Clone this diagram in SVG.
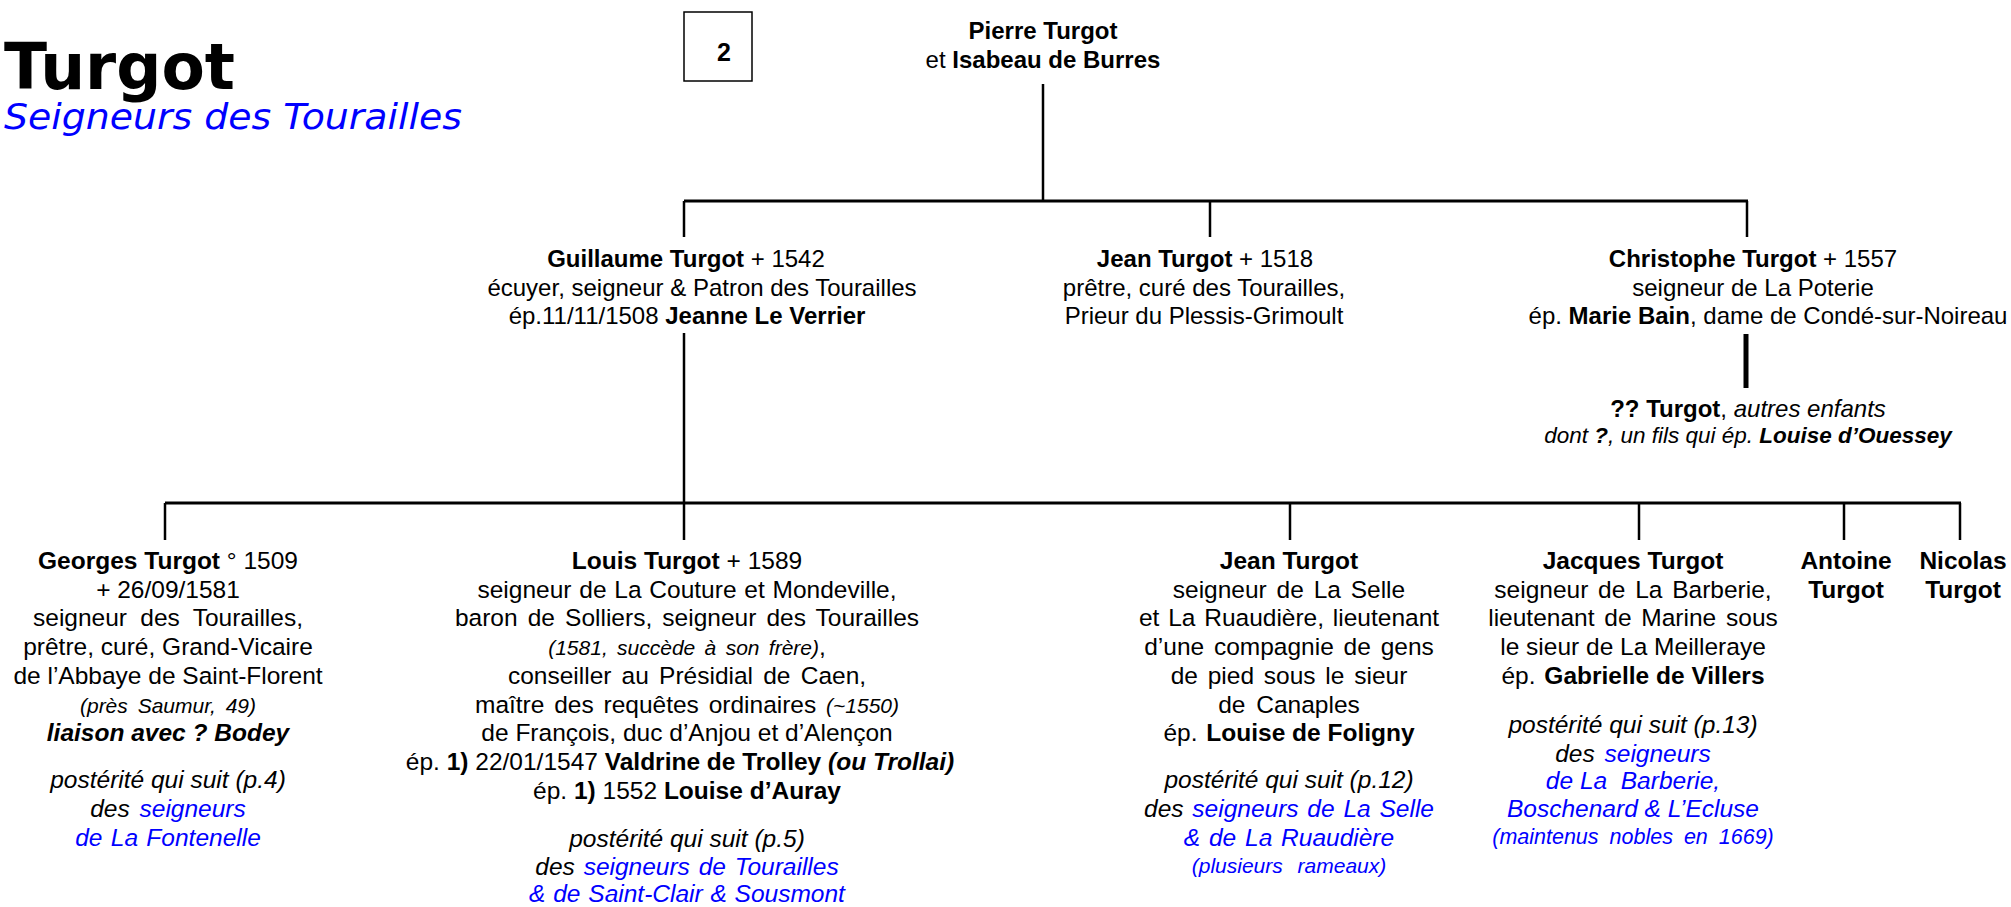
<svg xmlns="http://www.w3.org/2000/svg" width="2011" height="907" viewBox="0 0 2011 907">
<style>
.t{font-family:"Liberation Sans",Arial,sans-serif;font-size:24.5px;fill:#000;text-anchor:middle}
.top{font-size:24px}
.b{font-weight:bold}
.i{font-style:italic}
.bl{fill:#0000ff}
.s{font-size:21px}
.ln{stroke:#000;stroke-width:2.5;fill:none}
.h{stroke:#000;stroke-width:3;fill:none}
</style>
<rect width="2011" height="907" fill="#fff"/>
<g id="title">
<text x="4" y="89" textLength="231" lengthAdjust="spacingAndGlyphs" style="font-family:'DejaVu Sans',Verdana,sans-serif;font-weight:bold;font-size:64px">Turgot</text>
<text x="4" y="129" textLength="458" lengthAdjust="spacingAndGlyphs" style="font-family:'DejaVu Sans',Verdana,sans-serif;font-style:italic;font-size:36px;fill:#0000ff">Seigneurs des Tourailles</text>
</g>
<g id="page">
<rect x="684" y="12" width="68" height="69" fill="#fff" stroke="#000" stroke-width="1.5"/>
<text class="t b" x="724" y="61" style="font-size:25px">2</text>
</g>
<g id="connectors">
<line class="ln" x1="1043" y1="84" x2="1043" y2="201"/>
<line class="h" x1="684" y1="201" x2="1748" y2="201"/>
<line class="ln" x1="684" y1="201" x2="684" y2="237"/>
<line class="ln" x1="1210" y1="201" x2="1210" y2="237"/>
<line class="ln" x1="1747" y1="201" x2="1747" y2="237"/>
<line class="ln" x1="684" y1="333" x2="684" y2="540"/>
<line x1="1746" y1="334" x2="1746" y2="388" stroke="#000" stroke-width="5"/>
<line class="h" x1="165" y1="503" x2="1961" y2="503"/>
<line class="ln" x1="165" y1="503" x2="165" y2="540"/>
<line class="ln" x1="1290" y1="503" x2="1290" y2="540"/>
<line class="ln" x1="1639" y1="503" x2="1639" y2="540"/>
<line class="ln" x1="1844" y1="503" x2="1844" y2="540"/>
<line class="ln" x1="1960" y1="503" x2="1960" y2="540"/>
</g>
<g id="pierre" class="t top">
<text x="1043" y="39" class="b">Pierre Turgot</text>
<text x="1043" y="68">et <tspan class="b">Isabeau de Burres</tspan></text>
</g>
<g id="guillaume" class="t top">
<text x="686" y="267"><tspan class="b">Guillaume Turgot</tspan> + 1542</text>
<text x="702" y="295.5">écuyer, seigneur &amp; Patron des Tourailles</text>
<text x="687" y="324">ép.11/11/1508 <tspan class="b">Jeanne Le Verrier</tspan></text>
</g>
<g id="jean1" class="t top">
<text x="1205" y="267"><tspan class="b">Jean Turgot</tspan> + 1518</text>
<text x="1204" y="295.5">prêtre, curé des Tourailles,</text>
<text x="1204" y="324">Prieur du Plessis-Grimoult</text>
</g>
<g id="christophe" class="t top">
<text x="1753" y="267"><tspan class="b">Christophe Turgot</tspan> + 1557</text>
<text x="1753" y="295.5">seigneur de La Poterie</text>
<text x="1768" y="324">ép. <tspan class="b">Marie Bain</tspan>, dame de Condé-sur-Noireau</text>
</g>
<g id="autres" class="t top">
<text x="1748" y="417"><tspan class="b">?? Turgot</tspan>, <tspan class="i">autres enfants</tspan></text>
<text x="1748" y="443" class="i" style="font-size:22.5px">dont <tspan class="b">?</tspan>, un fils qui ép. <tspan class="b">Louise d’Ouessey</tspan></text>
</g>
<g id="georges" class="t">
<text x="168" y="569"><tspan class="b">Georges Turgot</tspan> ° 1509</text>
<text x="168" y="597.7">+ 26/09/1581</text>
<text x="168" y="626.4" style="word-spacing:6.5px">seigneur des Tourailles,</text>
<text x="168" y="655">prêtre, curé, Grand-Vicaire</text>
<text x="168" y="684">de l’Abbaye de Saint-Florent</text>
<text x="168" y="712.5" class="i s" style="word-spacing:4px">(près Saumur, 49)</text>
<text x="168" y="741" class="b i">liaison avec ? Bodey</text>
<text x="168" y="788" class="i">postérité qui suit (p.4)</text>
<text x="168" y="817" class="i" style="word-spacing:3px">des <tspan class="bl">seigneurs</tspan></text>
<text x="168" y="846" class="i bl" style="word-spacing:1.5px">de La Fontenelle</text>
</g>
<g id="louis" class="t">
<text x="687" y="569"><tspan class="b">Louis Turgot</tspan> + 1589</text>
<text x="687" y="597.7" style="word-spacing:1px">seigneur de La Couture et Mondeville,</text>
<text x="687" y="626.4" style="word-spacing:3.3px">baron de Solliers, seigneur des Tourailles</text>
<text x="687" y="655"><tspan class="i s" style="word-spacing:3.5px">(1581, succède à son frère)</tspan>,</text>
<text x="687" y="684" style="word-spacing:3.4px">conseiller au Présidial de Caen,</text>
<text x="687" y="712.5" style="word-spacing:3px">maître des requêtes ordinaires <tspan class="i s">(~1550)</tspan></text>
<text x="687" y="741">de François, duc d’Anjou et d’Alençon</text>
<text x="680" y="770">ép. <tspan class="b">1)</tspan> 22/01/1547 <tspan class="b">Valdrine de Trolley <tspan class="i">(ou Trollai)</tspan></tspan></text>
<text x="687" y="798.6">ép. <tspan class="b">1)</tspan> 1552 <tspan class="b">Louise d’Auray</tspan></text>
<text x="687" y="847" class="i">postérité qui suit (p.5)</text>
<text x="687" y="875" class="i" style="word-spacing:2px">des <tspan class="bl">seigneurs de Tourailles</tspan></text>
<text x="687" y="902" class="i bl" style="word-spacing:1px">&amp; de Saint-Clair &amp; Sousmont</text>
</g>
<g id="jean2" class="t">
<text x="1289" y="569" class="b">Jean Turgot</text>
<text x="1289" y="597.7" style="word-spacing:3px">seigneur de La Selle</text>
<text x="1289" y="626.4" style="word-spacing:2px">et La Ruaudière, lieutenant</text>
<text x="1289" y="655" style="word-spacing:3px">d’une compagnie de gens</text>
<text x="1289" y="684" style="word-spacing:3px">de pied sous le sieur</text>
<text x="1289" y="712.5" style="word-spacing:4px">de Canaples</text>
<text x="1289" y="741" style="word-spacing:2px">ép. <tspan class="b" style="word-spacing:0">Louise de Foligny</tspan></text>
<text x="1289" y="788" class="i">postérité qui suit (p.12)</text>
<text x="1289" y="817" class="i" style="word-spacing:2px">des <tspan class="bl">seigneurs de La Selle</tspan></text>
<text x="1289" y="846" class="i bl" style="word-spacing:2px">&amp; de La Ruaudière</text>
<text x="1289" y="873" class="i bl s" style="word-spacing:9px">(plusieurs rameaux)</text>
</g>
<g id="jacques" class="t">
<text x="1633" y="569" class="b">Jacques Turgot</text>
<text x="1633" y="597.7" style="word-spacing:3px">seigneur de La Barberie,</text>
<text x="1633" y="626.4" style="word-spacing:3px">lieutenant de Marine sous</text>
<text x="1633" y="655">le sieur de La Meilleraye</text>
<text x="1633" y="684" style="word-spacing:2px">ép. <tspan class="b" style="word-spacing:0">Gabrielle de Villers</tspan></text>
<text x="1633" y="733" class="i">postérité qui suit (p.13)</text>
<text x="1633" y="762" class="i" style="word-spacing:3px">des <tspan class="bl">seigneurs</tspan></text>
<text x="1633" y="789" class="i bl">de La &#160;Barberie,</text>
<text x="1633" y="817" class="i bl">Boschenard &amp; L’Ecluse</text>
<text x="1633" y="844" class="i bl" style="font-size:21.5px;word-spacing:5px">(maintenus nobles en 1669)</text>
</g>
<g id="antoine" class="t">
<text x="1846" y="569" class="b">Antoine</text>
<text x="1846" y="597.7" class="b">Turgot</text>
</g>
<g id="nicolas" class="t">
<text x="1963" y="569" class="b">Nicolas</text>
<text x="1963" y="597.7" class="b">Turgot</text>
</g>
</svg>
